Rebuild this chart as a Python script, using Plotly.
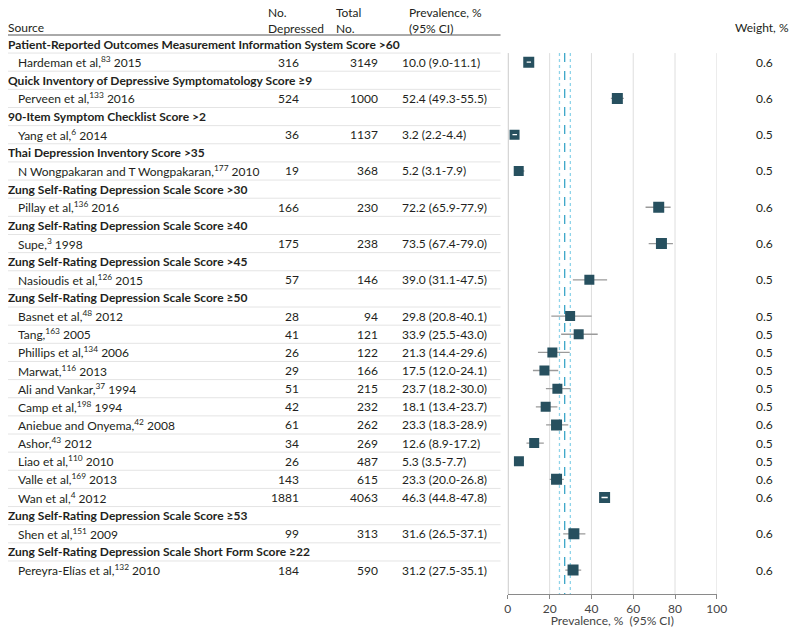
import plotly.graph_objects as go

# ---------------- data ----------------
scale_headers = [
    "Patient-Reported Outcomes Measurement Information System Score >60",
    "Quick Inventory of Depressive Symptomatology Score ≥9",
    "90-Item Symptom Checklist Score >2",
    "Thai Depression Inventory Score >35",
    "Zung Self-Rating Depression Scale Score >30",
    "Zung Self-Rating Depression Scale Score ≥40",
    "Zung Self-Rating Depression Scale Score >45",
    "Zung Self-Rating Depression Scale Score ≥50",
    "Zung Self-Rating Depression Scale Score ≥53",
    "Zung Self-Rating Depression Scale Short Form Score ≥22",
]
study_group = [0, 1, 2, 3, 4, 5, 6, 7, 7, 7, 7, 7, 7, 7, 7, 7, 7, 7, 8, 9]
study_author = [
    "Hardeman et al,", "Perveen et al,", "Yang et al,", "N Wongpakaran and T Wongpakaran,",
    "Pillay et al,", "Supe,", "Nasioudis et al,", "Basnet et al,", "Tang,", "Phillips et al,",
    "Marwat,", "Ali and Vankar,", "Camp et al,", "Aniebue and Onyema,", "Ashor,", "Liao et al,",
    "Valle et al,", "Wan et al,", "Shen et al,", "Pereyra-Elías et al,",
]
study_ref = ["83", "133", "6", "177", "136", "3", "126", "48", "163", "134",
             "116", "37", "198", "42", "43", "110", "169", "4", "151", "132"]
study_year = [2015, 2016, 2014, 2010, 2016, 1998, 2015, 2012, 2005, 2006,
              2013, 1994, 1994, 2008, 2012, 2010, 2013, 2012, 2009, 2010]
no_depressed = [316, 524, 36, 19, 166, 175, 57, 28, 41, 26, 29, 51, 42, 61, 34, 26, 143, 1881, 99, 184]
total_no = [3149, 1000, 1137, 368, 230, 238, 146, 94, 121, 122, 166, 215, 232, 262, 269, 487, 615, 4063, 313, 590]
prevalence = [10.0, 52.4, 3.2, 5.2, 72.2, 73.5, 39.0, 29.8, 33.9, 21.3, 17.5, 23.7, 18.1, 23.3, 12.6, 5.3, 23.3, 46.3, 31.6, 31.2]
ci_lower = [9.0, 49.3, 2.2, 3.1, 65.9, 67.4, 31.1, 20.8, 25.5, 14.4, 12.0, 18.2, 13.4, 18.3, 8.9, 3.5, 20.0, 44.8, 26.5, 27.5]
ci_upper = [11.1, 55.5, 4.4, 7.9, 77.9, 79.0, 47.5, 40.1, 43.0, 29.6, 24.1, 30.0, 23.7, 28.9, 17.2, 7.7, 26.8, 47.8, 37.1, 35.1]
weight = [0.6, 0.6, 0.5, 0.5, 0.6, 0.6, 0.5, 0.5, 0.5, 0.5, 0.5, 0.5, 0.5, 0.6, 0.5, 0.5, 0.6, 0.6, 0.6, 0.6]
pooled_estimate = 27.2
pooled_ci = (24.7, 29.9)
x_ticks = [0, 20, 40, 60, 80, 100]

# ---------------- layout constants ----------------
OFF = 8                          # default body margin of the page
W, H = 792, 636 - 2 * OFF
X_SCALE, X_SHIFT = 0.981, 3.9    # measured horizontal mapping of the photographed page
ROW0_PX, ROW_PX = 44.0, 18.14
PLOT_L, PLOT_R = 507.3, 715.7
AXIS_Y_PX = 594
FONT = "Lato"
TXT = "#231f20"
MARK = "#27505f"
CI_GRAY = "#9a9a9a"
GRID = "#dedede"
SEP = "#e4e4e4"


def px_to_row(p):
    return (p - ROW0_PX) / ROW_PX


def xp(p):
    """target picture x (px) -> paper fraction"""
    return ((p - X_SHIFT) / X_SCALE - OFF) / W


rows = []
for g, head in enumerate(scale_headers):
    rows.append(("h", g))
    for i, sg in enumerate(study_group):
        if sg == g:
            rows.append(("s", i))
n_rows = len(rows)

fig = go.Figure()
ann = []
shapes = []

txt_font = dict(family=FONT, size=12, color=TXT)
ann += [
    dict(x=xp(8), y=px_to_row(27), text="Source", xanchor="left"),
    dict(x=xp(267), y=px_to_row(20.5), text="No.<br>Depressed", xanchor="left"),
    dict(x=xp(335), y=px_to_row(20.5), text="Total<br>No.", xanchor="left"),
    dict(x=xp(408), y=px_to_row(20.5), text="Prevalence, %<br>(95% CI)", xanchor="left"),
    dict(x=xp(789), y=px_to_row(27), text="Weight, %", xanchor="right"),
]
shapes.append(dict(type="line", xref="paper", yref="y", x0=xp(4), x1=xp(500),
                   y0=px_to_row(35), y1=px_to_row(35), line=dict(color="#555", width=1)))

marker_px = {0.6: 11, 0.5: 10}
px_per_unit = (PLOT_R - PLOT_L) / 100.0

gray_x, gray_y, white_x, white_y = [], [], [], []
mk_x, mk_y, mk_s = [], [], []
for r, (kind, idx) in enumerate(rows):
    if kind == "h":
        ann.append(dict(x=xp(8), y=r, text="<b>" + scale_headers[idx] + "</b>", xanchor="left"))
    else:
        i = idx
        ann.append(dict(x=xp(18), y=r, xanchor="left",
                        text=f"{study_author[i]}<sup>{study_ref[i]}</sup> {study_year[i]}"))
        ann.append(dict(x=xp(300), y=r, xanchor="right", text=str(no_depressed[i])))
        ann.append(dict(x=xp(379), y=r, xanchor="right", text=str(total_no[i])))
        ann.append(dict(x=xp(401), y=r, xanchor="left",
                        text=f"{prevalence[i]:.1f} ({ci_lower[i]:.1f}-{ci_upper[i]:.1f})"))
        ann.append(dict(x=xp(763), y=r, xanchor="center", text=f"{weight[i]:.1f}"))
        s = marker_px[weight[i]]
        half = s / 2 / px_per_unit
        if ci_lower[i] >= prevalence[i] - half and ci_upper[i] <= prevalence[i] + half:
            white_x += [ci_lower[i], ci_upper[i], None]
            white_y += [r, r, None]
        else:
            gray_x += [ci_lower[i], ci_upper[i], None]
            gray_y += [r, r, None]
        mk_x.append(prevalence[i]); mk_y.append(r); mk_s.append(s)
    if r < n_rows - 1:
        shapes.append(dict(type="line", xref="paper", yref="y", x0=xp(4), x1=xp(500),
                           y0=r + 0.5, y1=r + 0.5, line=dict(color=SEP, width=1)))

for a in ann:
    a.update(xref="paper", yref="y", showarrow=False, yanchor="middle", font=txt_font,
             borderpad=0, align="left")

top_row = 0.5
bot_row = px_to_row(AXIS_Y_PX)

for t in x_ticks[1:]:
    shapes.append(dict(type="line", xref="x", yref="y", x0=t, x1=t, y0=top_row, y1=bot_row,
                       line=dict(color=GRID, width=1), layer="below"))
for v in pooled_ci:
    shapes.append(dict(type="line", xref="x", yref="y", x0=v, x1=v, y0=top_row, y1=bot_row,
                       line=dict(color="#8fd4ea", width=1.3, dash="dot"), layer="below"))
shapes.append(dict(type="line", xref="x", yref="y", x0=pooled_estimate, x1=pooled_estimate,
                   y0=top_row, y1=bot_row, line=dict(color="#3aa5c8", width=1.3, dash="dash"),
                   layer="below"))
shapes.append(dict(type="line", xref="x", yref="y", x0=0, x1=0, y0=top_row, y1=bot_row,
                   line=dict(color="#8a8a8a", width=1)))

fig.add_trace(go.Scatter(x=gray_x, y=gray_y, mode="lines", line=dict(color=CI_GRAY, width=1.3),
                         hoverinfo="skip", showlegend=False))
fig.add_trace(go.Scatter(x=mk_x, y=mk_y, mode="markers",
                         marker=dict(symbol="square", size=mk_s, color=MARK, opacity=1,
                                     line=dict(width=0)),
                         showlegend=False))
fig.add_trace(go.Scatter(x=white_x, y=white_y, mode="lines", line=dict(color="white", width=1.3),
                         hoverinfo="skip", showlegend=False))

fig.update_layout(
    width=W, height=H, margin=dict(l=0, r=0, t=0, b=0),
    paper_bgcolor="white", plot_bgcolor="rgba(0,0,0,0)",
    annotations=ann, shapes=shapes, showlegend=False,
    xaxis=dict(domain=[xp(PLOT_L), xp(PLOT_R)], range=[0, 100], anchor="free",
               position=(636 - OFF - AXIS_Y_PX) / H, showgrid=False, zeroline=False,
               showline=True, linecolor="#8a8a8a", linewidth=1,
               tickmode="array", tickvals=x_ticks, ticks="outside", ticklen=4,
               tickcolor="#8a8a8a", tickfont=dict(family=FONT, size=12, color="#444"),
               title=dict(text="Prevalence, %  (95% CI)",
                          font=dict(family=FONT, size=12, color="#444"), standoff=3)),
    yaxis=dict(domain=[0, 1], range=[px_to_row(636 - OFF), px_to_row(OFF)], visible=False,
               showgrid=False, zeroline=False),
)

fig.write_html("out.html")
